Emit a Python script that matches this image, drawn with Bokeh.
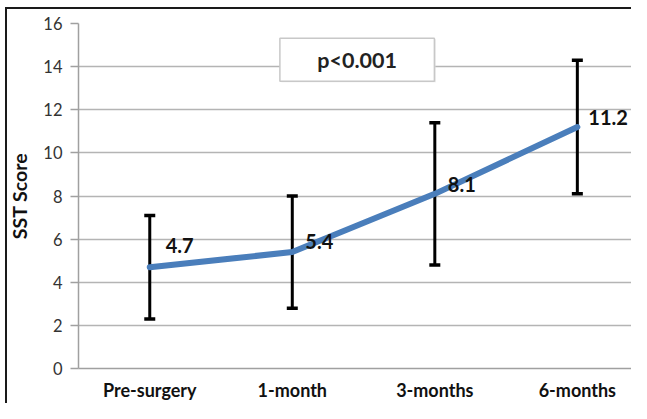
from bokeh.plotting import figure
from bokeh.models import Range1d, FixedTicker, ColumnDataSource, Label
from bokeh.embed import file_html
from bokeh.resources import INLINE

# ---- data ----
categories = ["Pre-surgery", "1-month", "3-months", "6-months"]
means = [4.7, 5.4, 8.1, 11.2]
upper = [7.1, 8.0, 11.4, 14.3]
lower = [2.3, 2.8, 4.8, 8.1]
y_ticks = [0, 2, 4, 6, 8, 10, 12, 14, 16]
y_label = "SST Score"
p_value_text = "p<0.001"

# ---- styling helpers (screen offsets for the value labels) ----
label_dx = [16, 13, 13, 11]
label_dy = [22, 11, 9, 10]

FONT = "Lato"
xs = [i + 0.5 for i in range(len(categories))]

src = ColumnDataSource(dict(
    x=xs, mean=means, up=upper, lo=lower,
    txt=[f"{m:.1f}" for m in means],
))

p = figure(width=631, height=403, output_backend="svg", toolbar_location=None,
           x_range=Range1d(0, 3.88), y_range=Range1d(0, 16),
           min_border_left=78, min_border_right=0, min_border_top=23,
           min_border_bottom=0)
p.styles = {"box-shadow": "inset 5px 7px 0px 0px white, inset 7px 9px 0px 0px #1a1a1a",
            "background-color": "white"}
p.outline_line_color = None
p.background_fill_color = "white"
p.border_fill_color = None

# axes
p.xaxis.ticker = FixedTicker(ticks=xs)
p.xaxis.major_label_overrides = {x: c for x, c in zip(xs, categories)}
p.xaxis.major_tick_line_color = None
p.xaxis.minor_tick_line_color = None
p.xaxis.axis_line_color = "#a0a0a0"
p.xaxis.axis_line_width = 1.5
p.xaxis.major_label_standoff = 4
p.xaxis.major_label_text_font = FONT
p.xaxis.major_label_text_font_style = "bold"
p.xaxis.major_label_text_font_size = "18px"
p.xaxis.major_label_text_color = "#111111"

p.yaxis.ticker = FixedTicker(ticks=y_ticks)
p.yaxis.minor_tick_line_color = None
p.yaxis.major_tick_out = 8
p.yaxis.major_tick_in = 0
p.yaxis.major_tick_line_color = "#a0a0a0"
p.yaxis.major_tick_line_width = 1.5
p.yaxis.axis_line_color = "#a0a0a0"
p.yaxis.axis_line_width = 1.5
p.yaxis.major_label_standoff = 8
p.yaxis.major_label_text_font = FONT
p.yaxis.major_label_text_font_size = "16.5px"
p.yaxis.major_label_text_color = "#333333"
p.yaxis.axis_label = y_label
p.yaxis.axis_label_text_font = FONT
p.yaxis.axis_label_text_font_style = "bold"
p.yaxis.axis_label_text_font_size = "19.5px"
p.yaxis.axis_label_text_color = "#111111"
p.yaxis.axis_label_standoff = 9

p.xgrid.grid_line_color = None
p.ygrid.grid_line_color = "#b4b4b4"
p.ygrid.grid_line_width = 1.5

# p-value box
p.quad(left=[1.425], right=[2.507], bottom=[13.27], top=[15.27],
       fill_color="#d8d8d8", line_color=None, fill_alpha=0.6)
p.quad(left=[1.413], right=[2.497], bottom=[13.32], top=[15.32],
       fill_color="white", line_color="#c8c8c8", line_width=1.5)
p.add_layout(Label(x=1.955, y=14.32, text=p_value_text, text_font=FONT,
                   text_font_style="bold", text_font_size="21.5px",
                   text_color="#222222", text_align="center",
                   text_baseline="middle"))

# error bars
p.segment(x0="x", y0="lo", x1="x", y1="up", source=src,
          line_color="black", line_width=3)
p.scatter(x="x", y="up", source=src, marker="dash", size=11,
          line_color="black", line_width=3.5)
p.scatter(x="x", y="lo", source=src, marker="dash", size=11,
          line_color="black", line_width=3.5)

# mean line
p.line(x="x", y="mean", source=src, line_color="#4A7EBB", line_width=6,
       line_cap="round", line_join="round")

# value labels
for i in range(len(xs)):
    p.add_layout(Label(x=xs[i], y=means[i], text=src.data["txt"][i],
                       x_offset=label_dx[i], y_offset=label_dy[i],
                       text_font=FONT, text_font_style="bold",
                       text_font_size="20px", text_color="#111111",
                       text_align="left", text_baseline="middle"))

open("out.html", "w").write(file_html(p, INLINE))
